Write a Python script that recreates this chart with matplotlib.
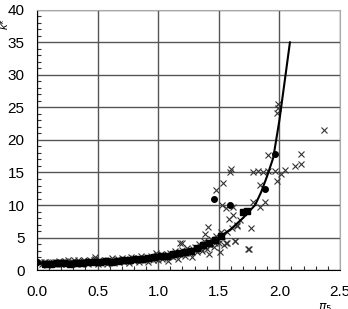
import matplotlib.pyplot as plt
import numpy as np

plt.rcParams['font.family'] = ['Liberation Sans', 'DejaVu Sans']

# fitted curve
curve_x = [0.0, 0.1, 0.2, 0.3, 0.4, 0.5, 0.6, 0.7, 0.8, 0.9, 1.0, 1.1, 1.2, 1.3,
           1.4, 1.5, 1.6, 1.7, 1.8, 1.85, 1.9, 1.95, 2.0, 2.04, 2.087]
curve_k = [1.0, 1.05, 1.1, 1.15, 1.22, 1.3, 1.4, 1.52, 1.65, 1.8, 2.0, 2.3, 2.7, 3.2,
           3.9, 5.0, 6.3, 8.0, 10.0, 12.0, 14.5, 17.3, 23.0, 28.5, 35.0]

# crosses
cross_x = [0.04, 0.06, 0.08, 0.10, 0.12, 0.14, 0.16, 0.18, 0.20, 0.22, 0.24, 0.26, 0.28,
           0.30, 0.32, 0.34, 0.36, 0.38, 0.40, 0.42, 0.44, 0.46, 0.48, 0.50, 0.52, 0.54,
           0.56, 0.58, 0.60, 0.62, 0.64, 0.66, 0.68, 0.70, 0.72, 0.74, 0.76, 0.78, 0.80,
           0.82, 0.84, 0.86, 0.88, 0.90, 0.92, 0.94, 0.96, 0.98, 1.00, 1.02, 1.04, 1.06,
           1.08, 1.10, 1.12, 1.14, 1.16, 1.18, 1.20, 1.22, 1.24, 1.26, 1.28, 1.30, 1.32,
           1.34, 1.36, 1.38, 1.40, 1.42, 1.44, 1.46, 1.48, 1.50, 1.52, 1.54,
           0.05, 0.09, 0.13, 0.17, 0.21, 0.25, 0.29, 0.33, 0.37, 0.41, 0.45, 0.49, 0.53,
           0.57, 0.61, 0.65, 0.69, 0.73, 0.77, 0.81, 0.85, 0.89, 0.93, 0.97, 1.01, 1.05,
           1.09, 1.13, 1.17, 1.21, 1.25, 1.29, 1.33, 1.37, 1.41, 1.45, 1.49, 1.53, 1.57,
           1.61, 1.65,
           0.03, 0.07, 0.11, 0.15, 0.19, 0.23, 0.27, 0.31, 0.35, 0.39, 0.43, 0.47, 0.51,
           0.55, 0.59, 0.63, 0.67, 0.71, 0.75, 0.79, 0.83, 0.87, 0.91, 0.95, 0.99, 1.03,
           1.07, 1.11, 1.15, 1.19, 1.23, 1.27, 1.31, 1.35, 1.39, 1.43, 1.47,
           1.909, 2.175, 2.175, 2.129, 2.046, 2.01, 1.977, 1.60, 1.592, 1.785, 1.826,
           1.867, 1.909, 1.964, 1.537, 1.477, 1.524, 1.56, 1.62, 1.84, 1.88, 1.84, 1.785,
           1.77, 1.75, 1.634, 1.56, 1.587, 1.62, 1.653, 1.675, 1.414, 1.386, 1.194, 1.51,
           2.368, 1.986, 1.986, 1.982, 1.18, 1.565, 1.63, 1.743, 0.48, 0.99]
cross_k = [0.9, 1.2, 0.8, 1.0, 1.3, 0.9, 1.1, 1.4, 0.9, 1.2, 1.0, 1.5, 0.9,
           1.3, 1.1, 1.6, 1.0, 1.4, 1.2, 0.9, 1.5, 1.1, 1.7, 1.0, 1.4, 1.2,
           1.6, 1.0, 1.3, 1.8, 1.1, 1.5, 1.2, 1.9, 1.3, 1.6, 1.1, 2.0, 1.4,
           1.7, 1.2, 2.1, 1.5, 1.9, 1.3, 2.2, 1.6, 2.6, 1.5, 2.4, 1.8, 2.1,
           1.4, 2.6, 2.0, 2.9, 1.7, 2.4, 3.1, 2.2, 3.4, 2.6, 2.0, 3.6, 2.8,
           4.0, 3.0, 4.4, 3.3, 2.5, 4.8, 3.6, 5.3, 4.2, 5.8, 3.8,
           1.1, 1.0, 1.2, 0.9, 1.3, 1.1, 1.2, 1.0, 1.3, 1.1, 1.3, 1.2, 1.1,
           1.4, 1.2, 1.6, 1.4, 1.5, 1.7, 1.5, 1.6, 1.8, 1.7, 1.9, 2.0, 2.2,
           2.1, 2.4, 2.5, 2.8, 3.0, 3.2, 3.4, 3.7, 4.0, 4.4, 4.8, 5.3, 5.9,
           6.4, 7.0,
           1.3, 1.3, 1.0, 1.3, 1.2, 1.4, 1.3, 1.5, 1.2, 1.5, 1.3, 1.5, 1.6,
           1.3, 1.6, 1.4, 1.7, 1.6, 1.4, 1.8, 1.9, 1.5, 2.0, 1.8, 2.1, 1.7,
           2.5, 2.2, 2.3, 2.6, 2.6, 2.8, 3.1, 3.3, 3.6, 3.9, 4.2,
           17.7, 17.9, 16.3, 16.0, 15.4, 14.7, 13.7, 15.6, 15.0, 15.0, 15.3,
           15.0, 15.3, 15.3, 13.4, 12.3, 10.0, 9.5, 9.7, 13.1, 10.5, 9.7, 10.5,
           6.4, 3.3, 4.5, 4.1, 7.9, 8.5, 6.7, 7.7, 6.6, 5.6, 4.2, 2.8,
           21.6, 25.6, 24.9, 24.1, 4.1, 4.1, 4.5, 3.2, 2.0, 2.3]

# filled squares
square_x = [0.07, 0.12, 0.17, 0.22, 0.27, 0.32, 0.37, 0.42, 0.47, 0.52, 0.57, 0.62, 0.67,
            0.72, 0.77, 0.82, 0.87, 0.92, 0.97, 1.02, 1.07, 1.12, 1.17, 1.22, 1.27, 1.32,
            1.37, 1.42, 1.47, 1.52, 1.70, 1.73]
square_k = [1.0, 0.95, 1.05, 1.1, 1.0, 1.15, 1.1, 1.2, 1.25, 1.2, 1.35, 1.3, 1.45,
            1.5, 1.55, 1.7, 1.75, 1.85, 1.95, 2.1, 2.2, 2.4, 2.6, 2.8, 3.0, 3.4,
            3.8, 4.2, 4.6, 5.2, 9.0, 9.1]

# filled dots
dot_x = [0.0, 1.46, 1.592, 1.88, 1.966]
dot_k = [1.2, 10.9, 10.0, 12.4, 17.9]

fig = plt.figure(figsize=(3.48, 3.09), dpi=100)
ax = fig.add_axes([0.106, 0.126, 0.871, 0.842])

ax.plot(cross_x, cross_k, 'x', color='#333333', markersize=5, markeredgewidth=0.8)
ax.plot(square_x, square_k, 's', color='black', markersize=4)
ax.plot(dot_x, dot_k, 'o', color='black', markersize=4)
ax.plot(curve_x, curve_k, color='black', linewidth=1.5)

ax.set_xlim(0, 2.5)
ax.set_ylim(0, 40)
ax.set_xticks(np.arange(0, 2.51, 0.5))
ax.set_yticks(np.arange(0, 41, 5))
ax.set_xticklabels(['0.0', '0.5', '1.0', '1.5', '2.0', '2.5'])
ax.set_xticks(np.arange(0, 2.51, 0.1), minor=True)
ax.set_yticks(np.arange(0, 41, 1), minor=True)
ax.grid(True, which='major', color='#555555', linewidth=1)
ax.tick_params(which='major', length=0, labelsize=11, pad=9)
ax.tick_params(which='minor', direction='in', length=3, width=0.8, color='#333333')
ax.tick_params(axis='x', which='major', pad=11)

ax.spines['left'].set_color('black')
ax.spines['bottom'].set_color('black')
ax.spines['top'].set_color('#aaaaaa')
ax.spines['right'].set_color('#aaaaaa')

fig.text(0.014, 0.922, 'k*', rotation=90, fontsize=8, style='italic',
         ha='center', va='center')
fig.text(0.935, 0.022, r'$\pi_5$', fontsize=9, ha='center', va='top')

fig.savefig('out.png', dpi=100)
